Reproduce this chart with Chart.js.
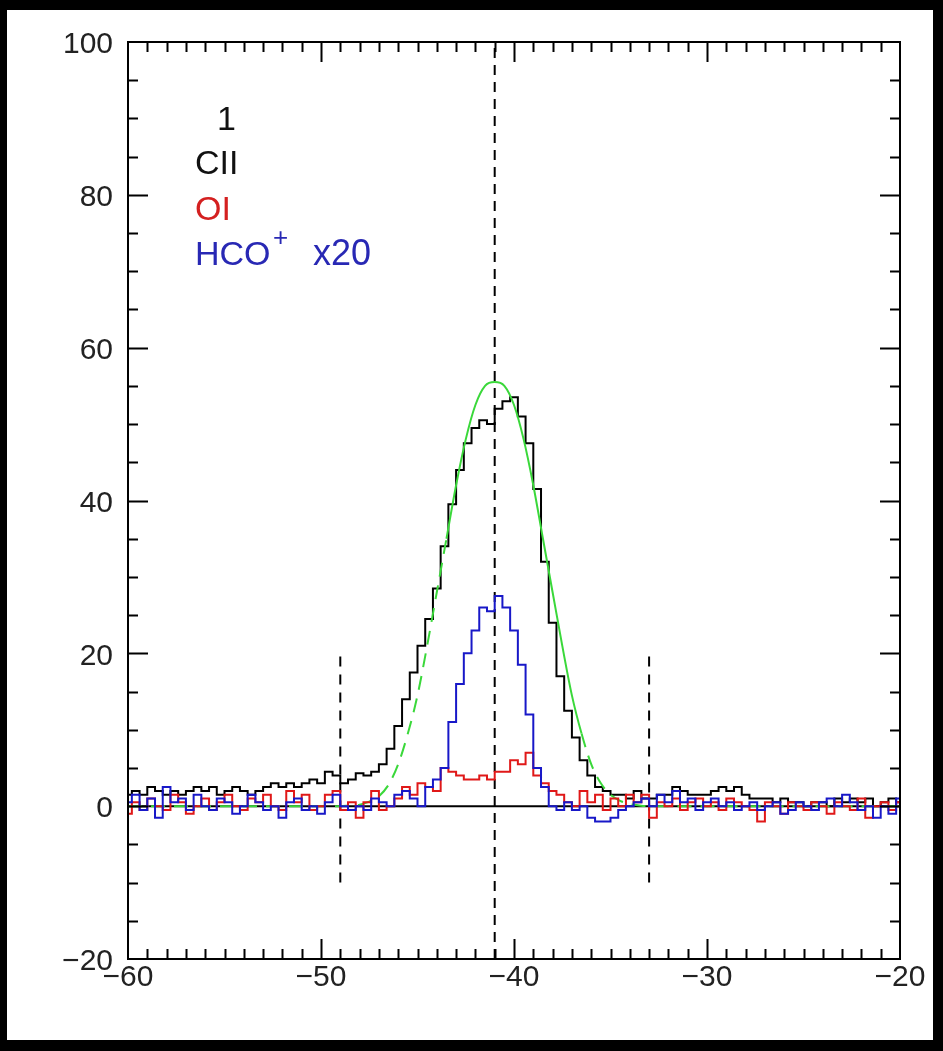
<!DOCTYPE html>
<html>
<head>
<meta charset="utf-8">
<script src="https://cdn.jsdelivr.net/npm/chart.js@4/dist/chart.umd.min.js"></script>
<style>
  html, body { margin: 0; padding: 0; background: #000; }
  #wrap { position: absolute; left: 0; top: 0; width: 943px; height: 1051px; }
</style>
</head>
<body>
<div id="wrap"><canvas id="spec" width="943" height="1051"></canvas></div>
<script>
// channel velocities (km/s), 0.4 km/s channels
const velocity = Array.from({ length: 101 }, (_, i) => +(-60 + i * 0.4).toFixed(1));

// [CII] spectrum
const ciiValues = [
  1.5, 2.0, 1.5, 2.5, 2.0, 1.5, 2.0, 1.5, 2.0, 2.5,
  2.0, 2.5, 1.5, 2.0, 2.5, 2.0, 1.5, 2.0, 2.5, 3.0,
  2.5, 3.0, 2.5, 3.0, 3.5, 3.0, 4.5, 4.0, 3.0, 3.5,
  4.3, 4.0, 4.5, 5.5, 7.5, 10.5, 14.0, 17.5, 21.0, 24.5,
  28.5, 34.0, 39.5, 44.0, 47.5, 49.5, 50.5, 50.0, 52.0, 53.0,
  53.5, 51.0, 47.5, 41.5, 32.0, 24.0, 17.0, 12.5, 9.0, 6.0,
  4.0, 2.5, 2.0, 1.5, 1.5, 1.0, 2.0, 1.0, 1.0, 1.5,
  1.5, 2.5, 2.0, 1.5, 1.5, 1.5, 2.0, 2.5, 2.0, 2.5,
  1.5, 1.0, 1.0, 1.0, 0.5, 1.0, 0.5, 0.5, 0.0, 0.5,
  0.5, 0.0, 1.0, 0.5, 1.0, 0.5, 1.0, 0.0, 0.5, 1.0, 0.5
];

// [OI] spectrum
const oiValues = [
  -1.0, 0.5, -0.5, 1.0, 0.0, -0.5, 1.5, 0.5, -1.0, 0.0,
  1.0, -0.5, 0.5, 1.5, 0.0, -0.5, 1.0, 0.5, 1.5, 0.0,
  -0.5, 2.0, 0.5, 1.5, -0.5, 0.0, 1.5, 2.0, -0.5, 0.5,
  -1.5, 0.5, 2.0, -0.5, 0.0, 1.0, 2.5, 1.5, 3.0, 2.5,
  2.0, 5.0, 4.5, 4.0, 3.5, 3.5, 4.0, 3.5, 4.5, 4.5,
  6.0, 5.5, 7.0, 4.0, 3.0, 2.0, 1.5, 0.5, 0.0, 2.0,
  0.5, 1.5, -0.5, 1.0, 0.0, 1.5, 0.5, 1.5, -1.5, 0.5,
  0.0, 1.0, -0.5, 0.5, 1.0, 0.0, 0.5, -0.5, 1.0, 0.5,
  0.0, -0.5, -2.0, 0.5, 0.0, -1.0, 0.5, 0.0, -0.5, 0.5,
  0.0, -1.0, 0.5, 0.0, -0.5, 1.0, -1.5, 0.0, 0.5, -0.5, 0.5
];

// HCO+ spectrum (already x20)
const hcoValues = [
  0.5, 1.5, -0.5, 1.0, -1.5, 2.5, 0.5, 1.0, -0.5, 1.5,
  0.0, -0.5, 1.0, 0.5, -1.0, 0.0, 1.5, 0.5, -0.5, 0.0,
  -1.5, 0.5, 1.0, -0.5, 0.0, -1.0, 0.5, 1.5, 0.0, -0.5,
  0.0, -0.5, 1.0, 0.5, 0.0, 1.5, 2.0, 1.0, 0.0, 2.5,
  3.5, 5.0, 11.0, 16.0, 20.0, 23.0, 26.0, 25.5, 27.5, 26.0,
  23.0, 18.5, 12.0, 5.0, 2.5, 0.0, -0.5, 0.5, -0.5, 0.0,
  -1.5, -2.0, -2.0, -1.5, -0.5, 0.0, 0.5, 1.0, 0.0, 1.5,
  0.5, 2.0, 0.5, 1.0, -0.5, 0.5, 1.0, 0.0, 0.5, -0.5,
  0.0, 0.5, -0.5, 0.0, 0.5, -1.0, -0.5, 0.5, 0.0, -0.5,
  0.5, 1.0, 0.0, 1.5, 0.5, -0.5, 0.0, -1.5, 0.0, -1.0, 1.0
];

// gaussian fit to [CII]
const fitVelocity = [
  -60, -50, -49, -48.5, -48, -47.5, -47, -46.5, -46, -45.5, -45, -44.5, -44,
  -43.5, -43, -42.5, -42, -41.5, -41, -40.5, -40, -39.5, -39, -38.5, -38,
  -37.5, -37, -36.5, -36, -35.5, -35, -34.5, -34, -33.5, -33, -30, -20
];
const fitValues = [
  0, 0, 0, 0.1, 0.2, 0.6, 1.3, 2.8, 5.5, 9.5, 14.5, 21, 28,
  35, 42, 48, 52.5, 55, 55.5, 55, 52.5, 48, 42, 35, 28,
  21, 14.5, 9.5, 5.5, 3, 1.5, 0.7, 0.3, 0.1, 0, 0, 0
];

// reference velocity and integration limits
const centreVelocity = -41;
const limitVelocities = [-49, -33];

const xTicks = [-60, -50, -40, -30, -20];
const yTicks = [-20, 0, 20, 40, 60, 80, 100];

const pts = (xs, ys) => xs.map((x, i) => ({ x: x, y: ys[i] }));
const minus = v => String(v).replace('-', '\u2212');

const frame = {
  id: 'frame',
  beforeDraw(chart) {
    const ctx = chart.ctx;
    ctx.save();
    ctx.fillStyle = '#000';
    ctx.fillRect(0, 0, chart.width, chart.height);
    ctx.fillStyle = '#fff';
    ctx.fillRect(7, 10, 926, 1030);
    ctx.restore();
  },
  afterDatasetsDraw(chart) {
    const ctx = chart.ctx;
    const a = chart.chartArea;
    const xs = chart.scales.x, ys = chart.scales.y;
    ctx.save();
    ctx.strokeStyle = '#000';
    ctx.lineWidth = 2;
    ctx.strokeRect(a.left, a.top, a.right - a.left, a.bottom - a.top);
    ctx.beginPath();
    for (let v = -59; v <= -21; v++) {
      const px = Math.round(xs.getPixelForValue(v)) + 0.5;
      const len = v % 10 === 0 ? 20 : 10;
      ctx.moveTo(px, a.bottom); ctx.lineTo(px, a.bottom - len);
      ctx.moveTo(px, a.top); ctx.lineTo(px, a.top + len);
    }
    for (let v = -15; v <= 95; v += 5) {
      const py = Math.round(ys.getPixelForValue(v)) + 0.5;
      const len = v % 20 === 0 ? 20 : 10;
      ctx.moveTo(a.left, py); ctx.lineTo(a.left + len, py);
      ctx.moveTo(a.right, py); ctx.lineTo(a.right - len, py);
    }
    ctx.stroke();

    // labels in the upper left corner
    ctx.textBaseline = 'alphabetic';
    ctx.textAlign = 'left';
    ctx.font = '34px "Liberation Sans", Arial, sans-serif';
    ctx.fillStyle = '#111';
    ctx.fillText('1', 217, 130);
    ctx.fillText('CII', 195, 174);
    ctx.fillStyle = '#d42020';
    ctx.fillText('OI', 195, 220);
    ctx.fillStyle = '#2828b4';
    ctx.fillText('HCO', 195, 265);
    ctx.font = '36px "Liberation Sans", Arial, sans-serif';
    ctx.fillText('x20', 313, 265);
    ctx.font = '26px "Liberation Sans", Arial, sans-serif';
    ctx.fillText('+', 273, 246);
    ctx.restore();
  }
};

const tickFont = { family: '"Liberation Sans", Arial, sans-serif', size: 30 };

new Chart(document.getElementById('spec'), {
  type: 'line',
  data: {
    datasets: [
      {
        label: 'HCO+ x20',
        data: pts(velocity, hcoValues),
        borderColor: '#1818c8',
        borderWidth: 2,
        stepped: 'middle',
        order: 0
      },
      {
        label: 'OI',
        data: pts(velocity, oiValues),
        borderColor: '#e01818',
        borderWidth: 2,
        stepped: 'middle',
        order: 1
      },
      {
        label: 'fit',
        data: pts(fitVelocity, fitValues),
        borderColor: '#3ad83a',
        borderWidth: 2,
        cubicInterpolationMode: 'monotone',
        segment: {
          borderDash: c => {
            const x0 = c.p0.parsed.x, y0 = c.p0.parsed.y, y1 = c.p1.parsed.y;
            if (x0 < -41 && Math.max(y0, y1) < 40) return [14, 9];
            if (x0 >= -41 && Math.max(y0, y1) < 12) return [14, 9];
            return undefined;
          }
        },
        order: 2
      },
      {
        label: 'CII',
        data: pts(velocity, ciiValues),
        borderColor: '#000',
        borderWidth: 2,
        stepped: 'middle',
        order: 3
      },
      {
        label: 'zero',
        data: [{ x: -60, y: 0 }, { x: -20, y: 0 }],
        borderColor: '#000',
        borderWidth: 2,
        order: 4
      },
      {
        label: 'centre',
        data: [{ x: centreVelocity, y: -20 }, { x: centreVelocity, y: 100 }],
        borderColor: '#000',
        borderWidth: 2,
        borderDash: [10, 7],
        order: 5
      },
      {
        label: 'low',
        data: [{ x: limitVelocities[0], y: -10 }, { x: limitVelocities[0], y: 20 }],
        borderColor: '#000',
        borderWidth: 2,
        borderDash: [10, 8],
        order: 5
      },
      {
        label: 'high',
        data: [{ x: limitVelocities[1], y: -10 }, { x: limitVelocities[1], y: 20 }],
        borderColor: '#000',
        borderWidth: 2,
        borderDash: [10, 8],
        order: 5
      }
    ]
  },
  options: {
    responsive: false,
    animation: false,
    devicePixelRatio: 1,
    layout: { padding: { top: 42, right: 43, left: 0, bottom: 0 } },
    elements: { point: { radius: 0 }, line: { fill: false, tension: 0 } },
    plugins: { legend: { display: false }, tooltip: { enabled: false } },
    scales: {
      x: {
        type: 'linear',
        min: -60,
        max: -20,
        afterFit: s => { s.height = 92; },
        afterBuildTicks: s => { s.ticks = xTicks.map(v => ({ value: v })); },
        grid: { display: false, drawTicks: false },
        border: { display: false },
        ticks: { font: tickFont, color: '#222', padding: 1, maxRotation: 0, callback: minus }
      },
      y: {
        type: 'linear',
        min: -20,
        max: 100,
        afterFit: s => { s.width = 128; },
        afterBuildTicks: s => { s.ticks = yTicks.map(v => ({ value: v })); },
        grid: { display: false, drawTicks: false },
        border: { display: false },
        ticks: { font: tickFont, color: '#222', padding: 15, labelOffset: 3, callback: minus }
      }
    }
  },
  plugins: [frame]
});
</script>
</body>
</html>
